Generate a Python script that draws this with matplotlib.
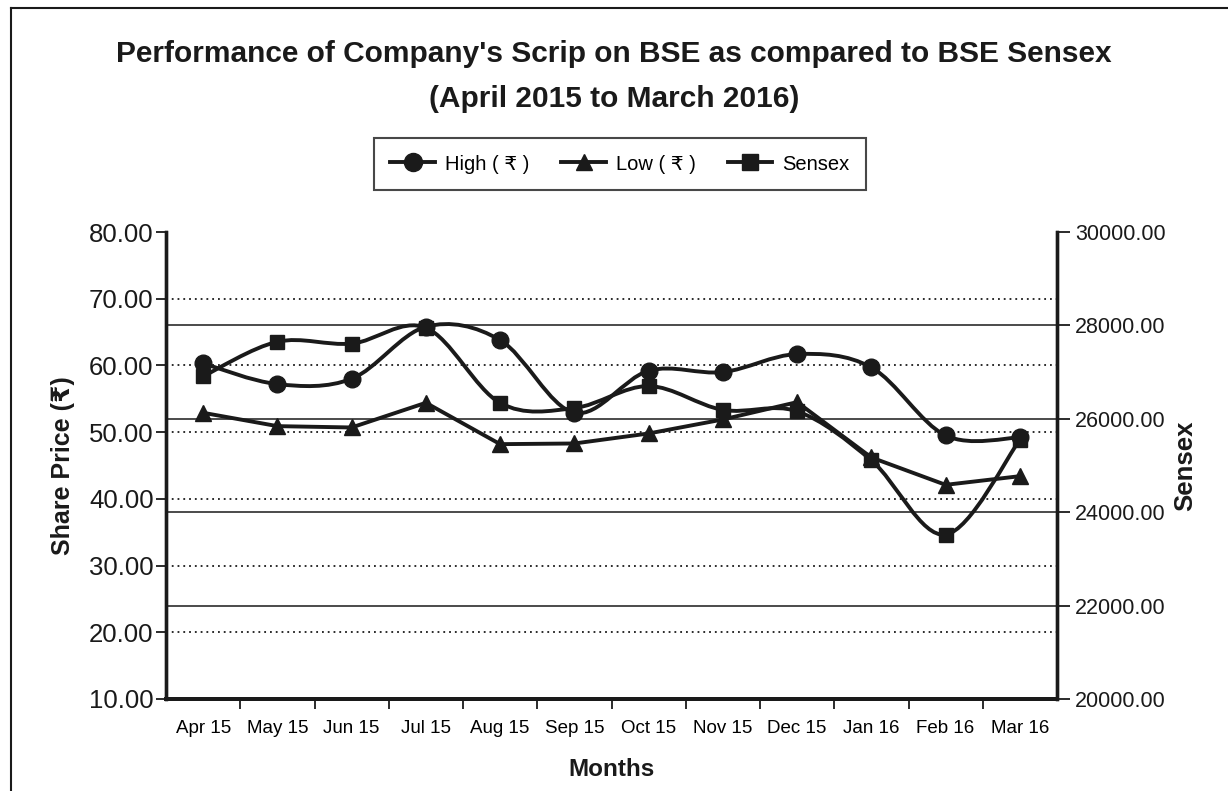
import matplotlib.pyplot as plt
from matplotlib.lines import Line2D
from matplotlib.path import Path
from matplotlib.patches import PathPatch

months = ['Apr 15', 'May 15', 'Jun 15', 'Jul 15', 'Aug 15', 'Sep 15',
          'Oct 15', 'Nov 15', 'Dec 15', 'Jan 16', 'Feb 16', 'Mar 16']
high = [60.3, 57.2, 58.0, 65.8, 63.8, 52.9, 59.2, 59.0, 61.7, 59.7, 49.5, 49.2]
low = [52.9, 50.9, 50.7, 54.4, 48.2, 48.3, 49.8, 51.9, 54.5, 46.2, 42.1, 43.4]
sensex = [26910, 27650, 27610, 27950, 26340, 26230, 26700, 26190, 26160,
          25110, 23520, 25550]
left_ticks = [10, 20, 30, 40, 50, 60, 70, 80]
right_ticks = [20000, 22000, 24000, 26000, 28000, 30000]

INK = '#1a1a1a'
REG = ['Liberation Sans', 'DejaVu Sans']


def smooth_path(xs, ys):
    # catmull-rom through the points, as bezier segments (like excel "smoothed line")
    pts = list(zip(xs, ys))
    verts = [pts[0]]
    codes = [Path.MOVETO]
    n = len(pts)
    for i in range(n - 1):
        p0 = pts[i - 1] if i > 0 else pts[i]
        p1 = pts[i]
        p2 = pts[i + 1]
        p3 = pts[i + 2] if i + 2 < n else pts[i + 1]
        c1 = (p1[0] + (p2[0] - p0[0]) / 6, p1[1] + (p2[1] - p0[1]) / 6)
        c2 = (p2[0] - (p3[0] - p1[0]) / 6, p2[1] - (p3[1] - p1[1]) / 6)
        verts += [c1, c2, p2]
        codes += [Path.CURVE4] * 3
    return Path(verts, codes)


fig = plt.figure(figsize=(12.28, 7.91), dpi=100)
ax = fig.add_axes([166 / 1228, 1 - 699 / 791, (1057 - 166) / 1228, (699 - 232) / 791])
ax2 = ax.twinx()

x = list(range(len(months)))

# gridlines
ax.hlines(left_ticks[1:-1], -0.5, 11.5, colors=INK, linestyles=(0, (1, 2.2)), lw=1.3, zorder=1)
ax2.hlines(right_ticks[1:-1], -0.5, 11.5, colors=INK, lw=1.1, zorder=1)

ax.add_patch(PathPatch(smooth_path(x, high), facecolor='none', edgecolor=INK, lw=2.8, zorder=3))
ax.plot(x, high, ls='none', marker='o', ms=12, color=INK, zorder=4)
ax.plot(x, low, color=INK, lw=2.8, marker='^', ms=11, zorder=4)
ax2.add_patch(PathPatch(smooth_path(x, sensex), facecolor='none', edgecolor=INK, lw=2.8, zorder=3))
ax2.plot(x, sensex, ls='none', marker='s', ms=10.5, color=INK, zorder=4)

ax.set_xlim(-0.5, 11.5)
ax.set_ylim(10, 80)
ax2.set_ylim(20000, 30000)

ax.set_yticks(left_ticks)
ax.set_yticklabels(['%.2f' % v for v in left_ticks], family=REG, fontsize=18.5)
ax2.set_yticks(right_ticks)
ax2.set_yticklabels(['%.2f' % v for v in right_ticks], family=REG, fontsize=15.5)

ax.set_xticks(x)
ax.set_xticklabels(months, family=REG, fontsize=13.5)
ax.set_xticks([i - 0.5 for i in range(1, 12)], minor=True)
ax.tick_params(axis='x', which='major', length=0, pad=15)
ax.tick_params(axis='x', which='minor', length=7, width=1.3, color=INK, direction='out')
ax.tick_params(axis='y', length=7, width=1.3, color=INK, pad=2, labelcolor=INK)
ax2.tick_params(axis='y', length=9, width=1.3, color=INK, pad=4, labelcolor=INK)

for a in (ax, ax2):
    a.spines['top'].set_visible(False)
    a.spines['left'].set_linewidth(2.4)
    a.spines['right'].set_linewidth(2.4)
    a.spines['bottom'].set_linewidth(2.8)
    for s in a.spines.values():
        s.set_color(INK)

ax.set_xlabel('Months', family=REG, fontsize=17.5, fontweight='bold', color=INK, labelpad=15)
ax.set_ylabel('Share Price (\u20b9)', family=REG, fontsize=18, fontweight='bold', color=INK, labelpad=10)
ax2.set_ylabel('Sensex', family=REG, fontsize=18.5, fontweight='bold', color=INK, labelpad=5)

fig.text(0.5, 1 - 54 / 791, "Performance of Company's Scrip on BSE as compared to BSE Sensex",
         ha='center', va='center', family=REG, fontsize=21.5, fontweight='bold', color=INK)
fig.text(0.5, 1 - 99 / 791, '(April 2015 to March 2016)',
         ha='center', va='center', family=REG, fontsize=21.5, fontweight='bold', color=INK)

handles = [Line2D([], [], color=INK, lw=2.8, marker='o', ms=13),
           Line2D([], [], color=INK, lw=2.8, marker='^', ms=12),
           Line2D([], [], color=INK, lw=2.8, marker='s', ms=11.5)]
leg = fig.legend(handles, ['High ( \u20b9 )', 'Low ( \u20b9 )', 'Sensex'], loc='center',
                 bbox_to_anchor=(620 / 1228, 1 - 164 / 791), ncol=3, frameon=True, fancybox=False,
                 prop={'family': REG, 'size': 14.5}, handlelength=2.2, handletextpad=0.5,
                 columnspacing=1.6, borderpad=0.8)
leg.get_frame().set_edgecolor(INK)
leg.get_frame().set_linewidth(1.5)

# outer frame (left and top edges only show)
fig.add_artist(Line2D([11 / 1228, 11 / 1228], [0, 1 - 8 / 791], color=INK, lw=1.5))
fig.add_artist(Line2D([11 / 1228, 1], [1 - 8 / 791, 1 - 8 / 791], color=INK, lw=1.5))

fig.savefig('out.png', dpi=100)
